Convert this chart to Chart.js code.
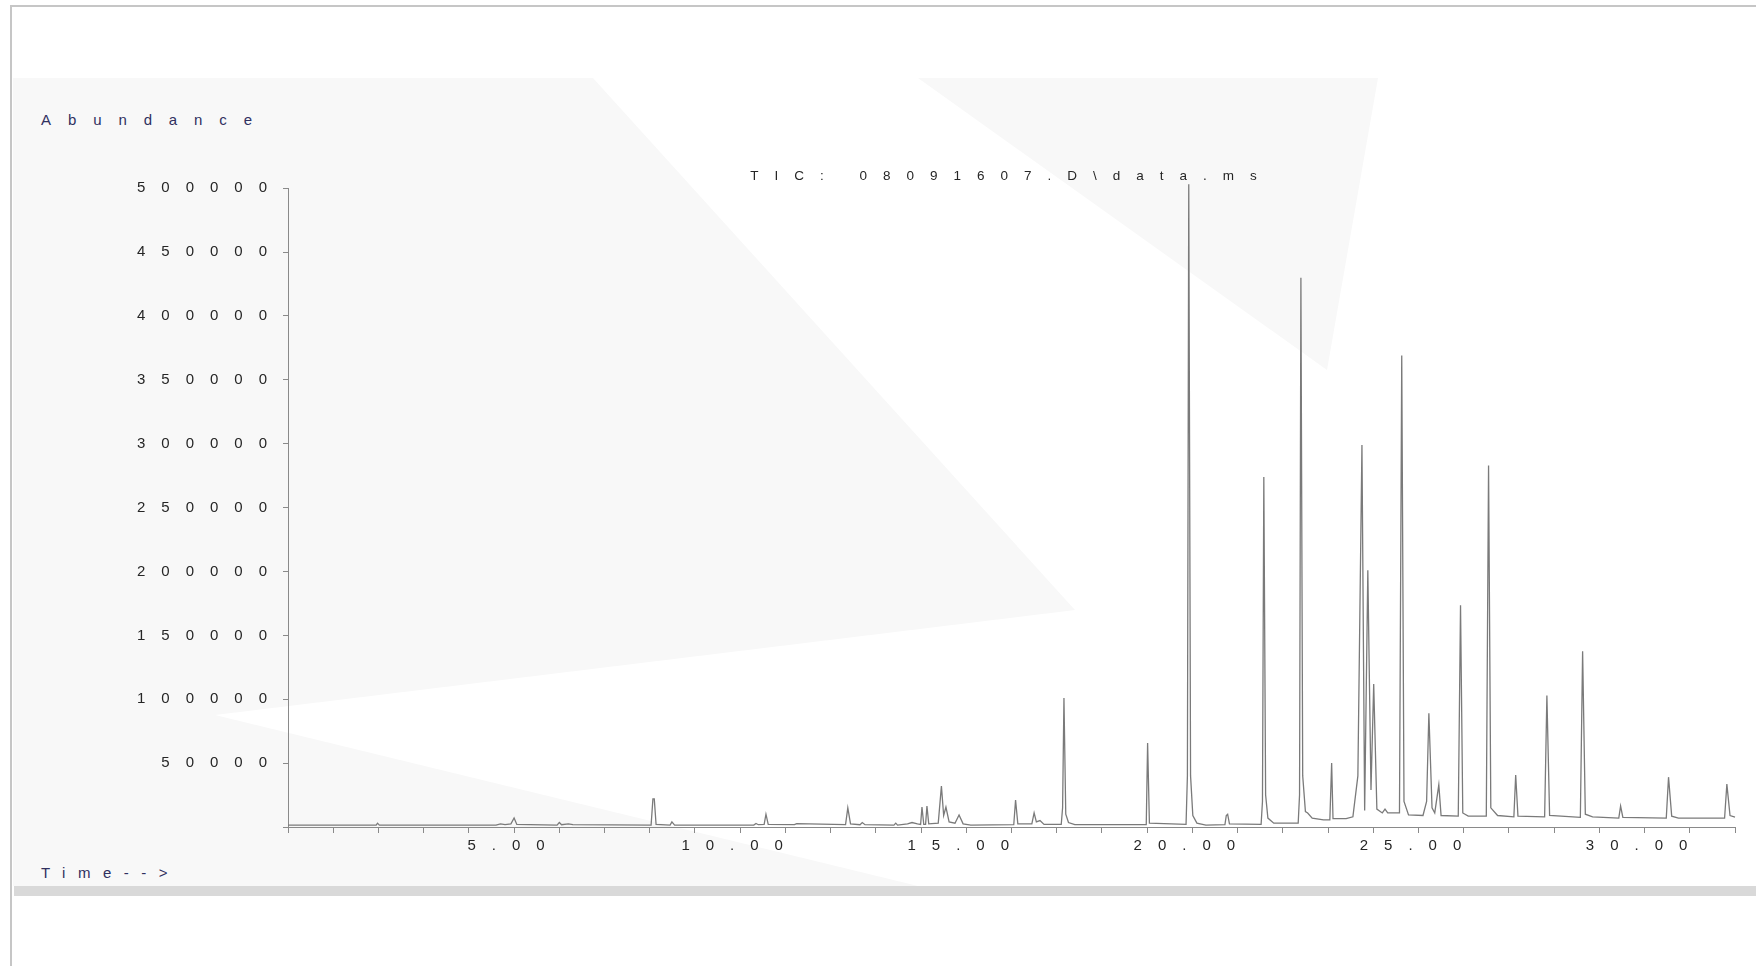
<!DOCTYPE html>
<html>
<head>
<meta charset="utf-8">
<script src="https://cdn.jsdelivr.net/npm/chart.js@4.4.1/dist/chart.umd.min.js"></script>
<style>
  html, body { margin: 0; padding: 0; background: #ffffff; }
  body { width: 1756px; height: 966px; position: relative; overflow: hidden; font-family: "Liberation Sans", Arial, sans-serif; }
  #frame { position: absolute; left: 10px; top: 5px; width: 1800px; height: 1000px; border-left: 2px solid #c6c6c6; border-top: 2px solid #c6c6c6; }
  #panel { position: absolute; left: 13px; top: 78px; width: 1743px; height: 808px; background: #ffffff; overflow: hidden; }
  .shade { position: absolute; left: 0; top: 0; width: 1743px; height: 808px; background: #f8f8f8; }
  #shadeA { clip-path: polygon(0px 0px, 580px 0px, 1062px 532px, 202px 637px, 905px 808px, 0px 808px); }
  #shadeB { clip-path: polygon(905px 0px, 1365px 0px, 1314px 292px); }
  #bar { position: absolute; left: 14px; top: 886px; width: 1742px; height: 10px; background: #d9d9d9; }
  #wrap { position: absolute; left: 0; top: 78px; width: 1756px; height: 808px; }
  .lbl { position: absolute; font-size: 15px; line-height: 18px; color: #30305f; white-space: nowrap; }
  #abund { left: 41px; top: 111px; letter-spacing: 16.9px; }
  #timeLbl { left: 41px; top: 864px; letter-spacing: 12.5px; }
</style>
</head>
<body>
<div id="frame"></div>
<div id="panel"><div class="shade" id="shadeA"></div><div class="shade" id="shadeB"></div></div>
<div id="bar"></div>
<div class="lbl" id="abund">Abundance</div>
<div class="lbl" id="timeLbl">Time--&gt;</div>
<div id="wrap"><canvas id="c" width="1756" height="808"></canvas></div>
<script>
// Retention time (min) and abundance
const times = [
  0.00, 1.95, 1.98, 2.02, 4.60, 4.70, 4.80, 4.93, 5.00, 5.06,
  5.95, 6.00, 6.05, 6.20, 6.30, 8.03, 8.07, 8.10, 8.14, 8.45,
  8.49, 8.55, 10.30, 10.35, 10.40, 10.53, 10.57, 10.62, 11.20, 11.25,
  12.33, 12.38, 12.44, 12.65, 12.70, 12.76, 13.40, 13.44, 13.48, 13.70,
  13.80, 13.92, 13.99, 14.02, 14.06, 14.10, 14.13, 14.17, 14.38, 14.45,
  14.50, 14.55, 14.62, 14.75, 14.84, 14.93, 15.10, 16.05, 16.09, 16.14,
  16.45, 16.50, 16.55, 16.63, 16.72, 17.10, 17.13, 17.16, 17.20, 17.26,
  17.40, 18.98, 19.01, 19.05, 19.86, 19.89, 19.92, 19.96, 20.01, 20.10,
  20.30, 20.72, 20.75, 20.78, 20.82, 21.52, 21.55, 21.58, 21.62, 21.67,
  21.80, 22.34, 22.37, 22.40, 22.44, 22.50, 22.55, 22.65, 22.90, 23.04,
  23.08, 23.11, 23.40, 23.55, 23.66, 23.75, 23.81, 23.88, 23.95, 24.01,
  24.08, 24.20, 24.26, 24.32, 24.58, 24.63, 24.68, 24.78, 25.10, 25.18,
  25.23, 25.30, 25.36, 25.45, 25.50, 25.88, 25.93, 25.98, 26.10, 26.50,
  26.55, 26.60, 26.75, 27.11, 27.15, 27.20, 27.79, 27.84, 27.90, 28.58,
  28.63, 28.69, 28.85, 29.43, 29.47, 29.52, 30.48, 30.53, 30.60, 30.75,
  31.77, 31.82, 31.89, 32.00
];
const abundance = [
  1500, 1500, 3000, 1500, 1500, 2500, 1800, 2500, 7000, 2000,
  1500, 3500, 1800, 2500, 1800, 1500, 22000, 22000, 2000, 1500,
  4000, 1500, 1500, 2800, 1800, 2000, 10000, 2000, 1800, 2600,
  1800, 15000, 2500, 1800, 3500, 1800, 1500, 3000, 1500, 2500,
  3500, 2500, 2000, 15600, 2000, 2000, 16400, 2500, 3000, 32000,
  9000, 15600, 4000, 3000, 9400, 2500, 1500, 1800, 21000, 2500,
  2500, 11000, 4000, 5000, 2000, 2000, 15000, 101000, 10000, 3500,
  1800, 1800, 65700, 3000, 2000, 40000, 503000, 40000, 9000, 3000,
  1500, 1800, 9000, 10000, 2500, 2000, 20000, 274000, 25000, 7000,
  3000, 3000, 25000, 430000, 40000, 12000, 11000, 7000, 5500, 5500,
  50000, 6500, 6500, 8000, 40000, 299000, 13000, 201000, 29000, 112000,
  14000, 11000, 14000, 11000, 11000, 369000, 20000, 9500, 9000, 20000,
  89000, 15000, 11000, 33000, 9000, 8500, 173600, 11000, 8500, 8500,
  283000, 15000, 9000, 8000, 40700, 8500, 8000, 103000, 9000, 7500,
  137600, 10000, 8000, 7000, 16400, 7500, 7000, 39000, 8500, 7000,
  7000, 33600, 9000, 7800
];
const yTicks = [0, 50000, 100000, 150000, 200000, 250000, 300000, 350000, 400000, 450000, 500000];
const xLabels = [5, 10, 15, 20, 25, 30];
const titleText = 'TIC: 08091607.D\\data.ms';

const points = times.map((t, i) => ({ x: t, y: abundance[i] }));

const spacing = {
  id: 'spacing',
  beforeUpdate(c) { c.ctx.letterSpacing = '16px'; },
  beforeDraw(c) { c.ctx.letterSpacing = '16px'; }
};

new Chart(document.getElementById('c'), {
  type: 'line',
  data: {
    datasets: [{
      data: points,
      borderColor: '#7a7a7a',
      borderWidth: 1.3,
      pointRadius: 0,
      tension: 0,
      fill: false,
      clip: 8
    }]
  },
  options: {
    responsive: false,
    devicePixelRatio: 1,
    animation: false,
    layout: { padding: { left: 0, right: 21, top: 0, bottom: 0 } },
    plugins: {
      legend: { display: false },
      tooltip: { enabled: false },
      title: {
        display: true,
        text: titleText,
        fullSize: false,
        color: '#262626',
        font: { family: 'Liberation Sans', size: 13.5, weight: 'normal' },
        padding: { top: 90, bottom: 4 }
      }
    },
    scales: {
      x: {
        type: 'linear',
        min: 0,
        max: 32,
        afterFit(s) { s.height = 59; },
        border: { color: '#8a8a8a', width: 1 },
        grid: { drawOnChartArea: false, tickLength: 6, color: '#8a8a8a' },
        ticks: {
          stepSize: 1,
          autoSkip: false,
          maxRotation: 0,
          padding: 4,
          color: '#262626',
          font: { family: 'Liberation Sans', size: 15 },
          callback: (v) => xLabels.includes(v) ? v.toFixed(2) : ''
        }
      },
      y: {
        type: 'linear',
        min: 0,
        max: 500000,
        afterFit(s) { s.width = 288; },
        afterBuildTicks(s) { s.ticks = yTicks.map(v => ({ value: v })); },
        border: { color: '#8a8a8a', width: 1 },
        grid: { drawOnChartArea: false, tickLength: 5, color: '#8a8a8a' },
        ticks: {
          padding: 0,
          color: '#262626',
          font: { family: 'Liberation Sans', size: 15 },
          callback: (v) => v === 0 ? '' : String(v)
        }
      }
    }
  },
  plugins: [spacing]
});
</script>
</body>
</html>
